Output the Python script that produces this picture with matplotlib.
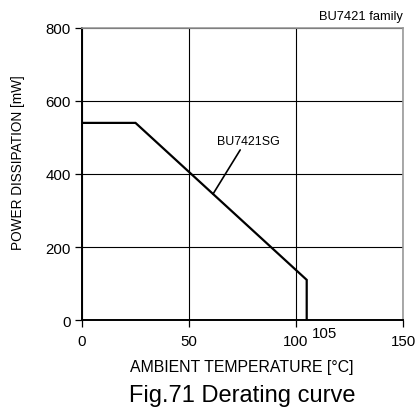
import matplotlib
matplotlib.use("Agg")
import matplotlib.pyplot as plt

plt.rcParams['font.family'] = ['Liberation Sans', 'DejaVu Sans']

# Data
temp = [0, 25, 105, 105]
power = [540, 540, 110, 0]
x_ticks = [0, 50, 100, 150]
y_ticks = [0, 200, 400, 600, 800]
series_label = "BU7421SG"
label_point = (61.2, 345)
label_text_pos = (63, 490)
extra_tick_value = 105

fig = plt.figure(figsize=(4.15, 4.14), dpi=100)
ax = fig.add_axes([0.1976, 0.2246, 0.7735, 0.7054])

ax.set_xlim(0, 150)
ax.set_ylim(0, 800)
ax.set_xticks(x_ticks)
ax.set_yticks(y_ticks)
ax.grid(True, color='black', linewidth=0.8)
ax.set_axisbelow(True)

ax.plot(temp, power, color='black', linewidth=1.6, solid_joinstyle='miter', zorder=3)

ax.annotate(series_label, xy=label_point, xytext=label_text_pos,
            fontsize=8.9, ha='left', va='center',
            arrowprops=dict(arrowstyle='-', color='black', lw=1.2,
                            shrinkA=0, shrinkB=0,
                            relpos=(0.4, 0.0)))

for s in ['top', 'right']:
    ax.spines[s].set_color('#999999')
    ax.spines[s].set_linewidth(1.2)
for s in ['left', 'bottom']:
    ax.spines[s].set_color('black')
    ax.spines[s].set_linewidth(1.4)

ax.tick_params(axis='both', direction='out', length=5, width=0.9,
               labelsize=10.8, colors='black')
ax.tick_params(axis='x', pad=5)
ax.tick_params(axis='y', pad=3)

ax.annotate(str(extra_tick_value), xy=(extra_tick_value, 0),
            xytext=(4, -9), textcoords='offset points',
            fontsize=10.8, ha='left', va='center', annotation_clip=False)

fig.text(18/415, 1 - 163/414, "POWER DISSIPATION [mW]", rotation=90,
         fontsize=9.8, ha='center', va='center')
fig.text(242/415, 1 - 368/414, "AMBIENT TEMPERATURE [°C]",
         fontsize=11.4, ha='center', va='center')
fig.text(242/415, 1 - 396/414, "Fig.71 Derating curve",
         fontsize=17, ha='center', va='center')
fig.text(403/415, 1 - 17/414, "BU7421 family",
         fontsize=9.3, ha='right', va='center')

fig.savefig("out.png", dpi=100)
